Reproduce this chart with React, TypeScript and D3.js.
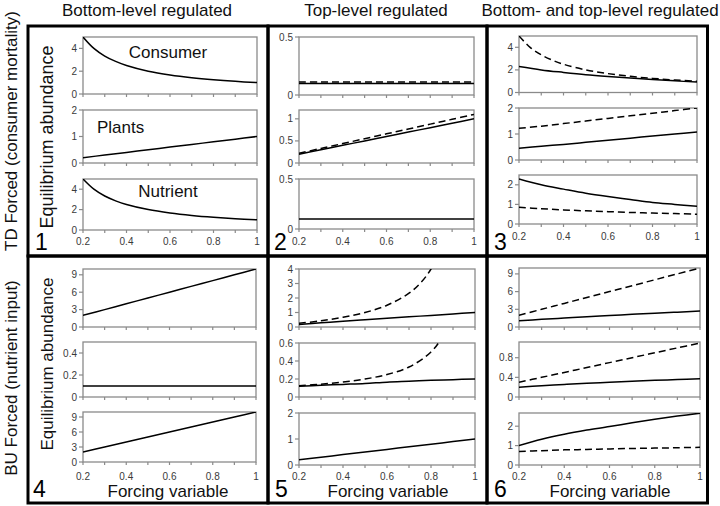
import React from "react";
import * as d3 from "d3";

// ---------- data ----------
const forcing = [0.2, 0.3, 0.4, 0.5, 0.6, 0.7, 0.8, 0.9, 1.0];
const forcingFine = [0.2, 0.25, 0.3, 0.35, 0.4, 0.5, 0.6, 0.7, 0.8, 0.9, 1.0];
const xTickValues = [0.2, 0.3, 0.4, 0.5, 0.6, 0.7, 0.8, 0.9, 1.0];
const xTickLabels = ["0.2", "0.4", "0.6", "0.8", "1"];
const xTickLabelValues = [0.2, 0.4, 0.6, 0.8, 1.0];

const columnTitles = ["Bottom-level regulated", "Top-level regulated", "Bottom- and top-level regulated"];
const rowTitles = ["TD Forced (consumer mortality)", "BU Forced (nutrient input)"];
const trophicNames = ["Consumer", "Plants", "Nutrient"];

// Panel 1 (TD forced, bottom-level regulated) — consumer & nutrient on forcingFine
const p1Consumer = [5, 4, 3.33, 2.86, 2.5, 2, 1.67, 1.43, 1.25, 1.11, 1];
const p1Plants = [0.2, 0.3, 0.4, 0.5, 0.6, 0.7, 0.8, 0.9, 1.0];
const p1Nutrient = [5, 4, 3.33, 2.86, 2.5, 2, 1.67, 1.43, 1.25, 1.11, 1];

// Panel 2 (TD forced, top-level regulated)
const p2ConsumerSolid = [0.1, 0.1, 0.1, 0.1, 0.1, 0.1, 0.1, 0.1, 0.1];
const p2ConsumerDashed = [0.113, 0.113, 0.113, 0.113, 0.113, 0.113, 0.113, 0.113, 0.113];
const p2PlantsSolid = [0.2, 0.3, 0.4, 0.5, 0.6, 0.7, 0.8, 0.9, 1.0];
const p2PlantsDashed = [0.22, 0.33, 0.44, 0.55, 0.66, 0.77, 0.88, 0.99, 1.1];
const p2NutrientSolid = [0.1, 0.1, 0.1, 0.1, 0.1, 0.1, 0.1, 0.1, 0.1];

// Panel 3 (TD forced, bottom- and top-level regulated) — consumer dashed on forcingFine
const p3ConsumerSolid = [2.3, 2.0, 1.78, 1.58, 1.42, 1.28, 1.15, 1.03, 0.92];
const p3ConsumerDashed = [5, 4, 3.33, 2.86, 2.5, 2, 1.67, 1.43, 1.25, 1.11, 1];
const p3PlantsSolid = [0.45, 0.53, 0.6, 0.68, 0.76, 0.84, 0.92, 1.0, 1.08];
const p3PlantsDashed = [1.22, 1.3, 1.4, 1.5, 1.6, 1.7, 1.8, 1.9, 2.0];
const p3NutrientSolid = [2.3, 2.0, 1.78, 1.57, 1.4, 1.25, 1.1, 1.0, 0.9];
const p3NutrientDashed = [0.85, 0.78, 0.72, 0.67, 0.63, 0.59, 0.56, 0.53, 0.5];

// Panel 4 (BU forced, bottom-level regulated)
const p4Consumer = [2, 3, 4, 5, 6, 7, 8, 9, 10];
const p4Plants = [0.1, 0.1, 0.1, 0.1, 0.1, 0.1, 0.1, 0.1, 0.1];
const p4Nutrient = [2, 3, 4, 5, 6, 7, 8, 9, 10];

// Panel 5 (BU forced, top-level regulated)
const p5ConsumerSolid = [0.18, 0.29, 0.4, 0.5, 0.6, 0.7, 0.8, 0.9, 1.0];
const p5ConsumerDashedX = [0.2, 0.3, 0.4, 0.5, 0.6, 0.7, 0.75, 0.8, 0.85];
const p5ConsumerDashed = [0.25, 0.43, 0.67, 1.0, 1.5, 2.33, 3.0, 4.0, 5.67];
const p5PlantsSolid = [0.12, 0.13, 0.14, 0.15, 0.165, 0.175, 0.185, 0.193, 0.2];
const p5PlantsDashedX = [0.2, 0.3, 0.4, 0.5, 0.6, 0.7, 0.8, 0.85, 0.9];
const p5PlantsDashed = [0.125, 0.143, 0.167, 0.2, 0.25, 0.333, 0.5, 0.667, 1.0];
const p5NutrientSolid = [0.2, 0.3, 0.4, 0.5, 0.6, 0.7, 0.8, 0.9, 1.0];

// Panel 6 (BU forced, bottom- and top-level regulated)
const p6ConsumerSolid = [1.05, 1.3, 1.52, 1.75, 1.95, 2.15, 2.35, 2.52, 2.7];
const p6ConsumerDashed = [2, 3, 4, 5, 6, 7, 8, 9, 10];
const p6PlantsSolid = [0.2, 0.23, 0.255, 0.28, 0.3, 0.32, 0.34, 0.355, 0.37];
const p6PlantsDashed = [0.3, 0.4, 0.5, 0.6, 0.7, 0.8, 0.9, 1.0, 1.1];
const p6NutrientSolid = [1.0, 1.33, 1.59, 1.8, 1.98, 2.18, 2.36, 2.52, 2.67];
const p6NutrientDashed = [0.7, 0.74, 0.78, 0.8, 0.83, 0.85, 0.87, 0.89, 0.91];

// y tick values and axis maxima
const p1Ticks = [[0, 2, 4], [0, 1, 2], [0, 2, 4]];
const p1Max = [5, 2, 5];
const p2Ticks = [[0, 0.5], [0, 0.5, 1], [0, 0.5]];
const p2Max = [0.5, 1.2, 0.5];
const p3Ticks = [[0, 2, 4], [0, 1, 2], [0, 1, 2]];
const p3Max = [5, 2, 2.5];
const p4Ticks = [[0, 3, 6, 9], [0, 0.2, 0.4], [0, 3, 6, 9]];
const p4Max = [10, 0.5, 10];
const p5Ticks = [[0, 1, 2, 3, 4], [0, 0.2, 0.4, 0.6], [0, 1, 2]];
const p5Max = [4, 0.6, 2];
const p6Ticks = [[0, 3, 6, 9], [0, 0.4, 0.8], [0, 1, 2]];
const p6Max = [10, 1.12, 2.68];

// ---------- layout ----------
const FONT = "'Liberation Sans', Arial, Helvetica, sans-serif";

type Series = { x: number[]; y: number[]; dashed?: boolean };
type Sub = { top: number; bottom: number; max: number; ticks: number[]; series: Series[] };
type Panel = { left: number; right: number; labelY: number; subs: Sub[] };

const s = (y: number[], dashed = false, x: number[] = forcing): Series => ({ x, y, dashed });

const panels: Panel[] = [
  {
    left: 83, right: 257, labelY: 245,
    subs: [
      { top: 37, bottom: 94, max: p1Max[0], ticks: p1Ticks[0], series: [s(p1Consumer, false, forcingFine)] },
      { top: 110, bottom: 163, max: p1Max[1], ticks: p1Ticks[1], series: [s(p1Plants)] },
      { top: 179, bottom: 230, max: p1Max[2], ticks: p1Ticks[2], series: [s(p1Nutrient, false, forcingFine)] },
    ],
  },
  {
    left: 299, right: 474, labelY: 245,
    subs: [
      { top: 37, bottom: 95, max: p2Max[0], ticks: p2Ticks[0], series: [s(p2ConsumerSolid), s(p2ConsumerDashed, true)] },
      { top: 110, bottom: 163, max: p2Max[1], ticks: p2Ticks[1], series: [s(p2PlantsSolid), s(p2PlantsDashed, true)] },
      { top: 179, bottom: 229, max: p2Max[2], ticks: p2Ticks[2], series: [s(p2NutrientSolid)] },
    ],
  },
  {
    left: 519, right: 697, labelY: 240,
    subs: [
      { top: 36, bottom: 92.5, max: p3Max[0], ticks: p3Ticks[0], series: [s(p3ConsumerSolid), s(p3ConsumerDashed, true, forcingFine)] },
      { top: 108, bottom: 160, max: p3Max[1], ticks: p3Ticks[1], series: [s(p3PlantsSolid), s(p3PlantsDashed, true)] },
      { top: 175, bottom: 224, max: p3Max[2], ticks: p3Ticks[2], series: [s(p3NutrientSolid), s(p3NutrientDashed, true)] },
    ],
  },
  {
    left: 83, right: 256, labelY: 480,
    subs: [
      { top: 269, bottom: 327, max: p4Max[0], ticks: p4Ticks[0], series: [s(p4Consumer)] },
      { top: 342, bottom: 397, max: p4Max[1], ticks: p4Ticks[1], series: [s(p4Plants)] },
      { top: 412, bottom: 462, max: p4Max[2], ticks: p4Ticks[2], series: [s(p4Nutrient)] },
    ],
  },
  {
    left: 299, right: 475, labelY: 480,
    subs: [
      { top: 269, bottom: 327, max: p5Max[0], ticks: p5Ticks[0], series: [s(p5ConsumerSolid), s(p5ConsumerDashed, true, p5ConsumerDashedX)] },
      { top: 343, bottom: 397, max: p5Max[1], ticks: p5Ticks[1], series: [s(p5PlantsSolid), s(p5PlantsDashed, true, p5PlantsDashedX)] },
      { top: 413, bottom: 465, max: p5Max[2], ticks: p5Ticks[2], series: [s(p5NutrientSolid)] },
    ],
  },
  {
    left: 519, right: 700, labelY: 480,
    subs: [
      { top: 268, bottom: 327, max: p6Max[0], ticks: p6Ticks[0], series: [s(p6ConsumerSolid), s(p6ConsumerDashed, true)] },
      { top: 342, bottom: 397, max: p6Max[1], ticks: p6Ticks[1], series: [s(p6PlantsSolid), s(p6PlantsDashed, true)] },
      { top: 413, bottom: 465, max: p6Max[2], ticks: p6Ticks[2], series: [s(p6NutrientSolid), s(p6NutrientDashed, true)] },
    ],
  },
];

const colEdges = [28, 268, 487, 707.5];
const rowEdges = [26, 256, 503];

const GRAY = "#8a8a8a";

function SubPlot({ id, left, right, sub, showLabels, labelY }: { id: string; left: number; right: number; sub: Sub; showLabels: boolean; labelY: number }) {
  const x = d3.scaleLinear().domain([0.2, 1]).range([left, right]);
  const y = d3.scaleLinear().domain([0, sub.max]).range([sub.bottom, sub.top]);
  const line = d3
    .line<[number, number]>()
    .x((d) => x(d[0]))
    .y((d) => y(d[1]))
    .curve(d3.curveCatmullRom.alpha(0.5));
  return (
    <g>
      <defs>
        <clipPath id={id}>
          <rect x={left} y={sub.top} width={right - left} height={sub.bottom - sub.top} />
        </clipPath>
      </defs>
      <rect x={left} y={sub.top} width={right - left} height={sub.bottom - sub.top} fill="none" stroke={GRAY} strokeWidth={1.3} />
      {sub.ticks.map((t) => (
        <g key={t}>
          <line x1={left - 4} x2={left} y1={y(t)} y2={y(t)} stroke={GRAY} strokeWidth={1.2} />
          <text x={left - 6} y={y(t)} dy="0.35em" textAnchor="end" fontSize={10} fill="#3a3a3a" fontFamily={FONT}>
            {String(t)}
          </text>
        </g>
      ))}
      {xTickValues.map((t) => (
        <line key={t} x1={x(t)} x2={x(t)} y1={sub.bottom} y2={sub.bottom + 3} stroke={GRAY} strokeWidth={1.2} />
      ))}
      {showLabels &&
        xTickLabelValues.map((t, i) => (
          <text key={t} x={x(t)} y={labelY} textAnchor="middle" fontSize={10} fill="#3a3a3a" fontFamily={FONT}>
            {xTickLabels[i]}
          </text>
        ))}
      <g clipPath={`url(#${id})`}>
        {sub.series.map((se, i) => (
          <path
            key={i}
            d={line(se.x.map((v, j) => [v, se.y[j]] as [number, number])) || ""}
            fill="none"
            stroke="#000"
            strokeWidth={1.5}
            strokeDasharray={se.dashed ? "7,4" : undefined}
          />
        ))}
      </g>
    </g>
  );
}

export default function App() {
  return (
    <svg width={720} height={506} style={{ position: "absolute", left: 0, top: 0, background: "#fff" }}>
      <rect x={0} y={0} width={720} height={506} fill="#fff" />
      {/* column titles */}
      {columnTitles.map((t, i) => (
        <text key={t} x={[147, 376, 600][i]} y={16} textAnchor="middle" fontSize={17} fontFamily={FONT} fill="#111">
          {t}
        </text>
      ))}
      {/* row titles */}
      {rowTitles.map((t, i) => (
        <text
          key={t}
          transform={`translate(${17},${[131, 378][i]}) rotate(-90)`}
          textAnchor="middle"
          fontSize={17}
          fontFamily={FONT}
          fill="#111"
        >
          {t}
        </text>
      ))}
      {/* boxes */}
      {[0, 1].map((r) =>
        [0, 1, 2].map((c) => (
          <rect
            key={`${r}-${c}`}
            x={colEdges[c]}
            y={rowEdges[r]}
            width={colEdges[c + 1] - colEdges[c]}
            height={rowEdges[r + 1] - rowEdges[r]}
            fill="none"
            stroke="#000"
            strokeWidth={3}
          />
        ))
      )}
      {/* subplots */}
      {panels.map((p, pi) =>
        p.subs.map((sub, si) => (
          <SubPlot key={`${pi}-${si}`} id={`clip-${pi}-${si}`} left={p.left} right={p.right} sub={sub} showLabels={si === 2} labelY={p.labelY} />
        ))
      )}
      {/* Equilibrium abundance labels */}
      {[137, 364].map((cy, i) => (
        <text key={i} transform={`translate(${53},${cy}) rotate(-90)`} textAnchor="middle" fontSize={[18, 17][i]} fontFamily={FONT} fill="#111">
          Equilibrium abundance
        </text>
      ))}
      {/* trophic names in panel 1 */}
      <text x={168} y={58} textAnchor="middle" fontSize={17} fontFamily={FONT} fill="#111">{trophicNames[0]}</text>
      <text x={97} y={133} fontSize={17} fontFamily={FONT} fill="#111">{trophicNames[1]}</text>
      <text x={168} y={197} textAnchor="middle" fontSize={17} fontFamily={FONT} fill="#111">{trophicNames[2]}</text>
      {/* Forcing variable labels */}
      {[168, 388, 610].map((cx, i) => (
        <text key={i} x={cx} y={497} textAnchor="middle" fontSize={17} fontFamily={FONT} fill="#111">
          Forcing variable
        </text>
      ))}
      {/* panel numbers */}
      {["1", "2", "3", "4", "5", "6"].map((n, i) => (
        <text
          key={n}
          x={[35, 274, 494, 33, 275, 494][i]}
          y={i < 3 ? 250 : 497}
          fontSize={23}
          fontFamily={FONT}
          fill="#000"
        >
          {n}
        </text>
      ))}
    </svg>
  );
}
